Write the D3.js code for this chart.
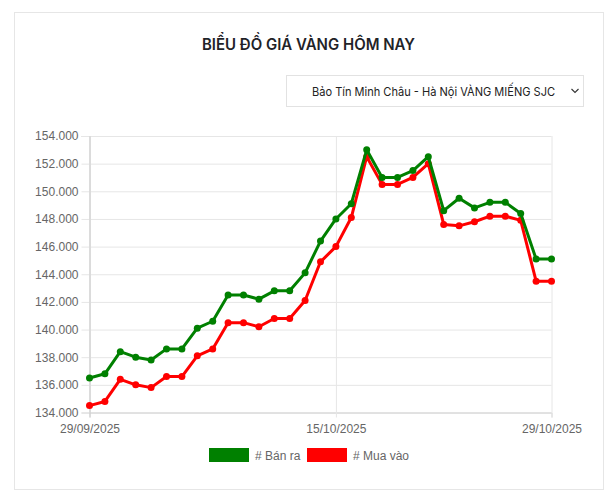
<!DOCTYPE html>
<html>
<head>
<meta charset="utf-8">
<script src="https://cdn.jsdelivr.net/npm/d3@7"></script>
<style>
  body { margin: 0; background: #fff; }
  svg { display: block; }
</style>
</head>
<body>
<svg id="chart" width="614" height="500"></svg>
<script>
// ngày trong kỳ
var dates = ["29/09/2025","30/09/2025","01/10/2025","02/10/2025","03/10/2025","04/10/2025",
  "05/10/2025","06/10/2025","07/10/2025","08/10/2025","09/10/2025","10/10/2025","11/10/2025",
  "12/10/2025","13/10/2025","14/10/2025","15/10/2025","16/10/2025","17/10/2025","18/10/2025",
  "19/10/2025","20/10/2025","21/10/2025","22/10/2025","23/10/2025","24/10/2025","25/10/2025",
  "26/10/2025","27/10/2025","28/10/2025","29/10/2025"];

// giá bán ra
var banRa = [136500,136800,138400,138000,137800,138600,138600,140100,140600,142500,142500,
  142200,142800,142800,144100,146400,148000,149100,153000,151000,151000,151500,152500,
  148600,149500,148800,149200,149200,148400,145100,145100];

// giá mua vào
var muaVao = [134500,134800,136400,136000,135800,136600,136600,138100,138600,140500,140500,
  140200,140800,140800,142100,144900,146000,148100,152500,150500,150500,151000,152000,
  147600,147500,147800,148200,148200,147900,143500,143500];

var xTicks = ["29/09/2025","15/10/2025","29/10/2025"];
var yTicks = [134000,136000,138000,140000,142000,144000,146000,148000,150000,152000,154000];

var series = [
  { name: "# Bán ra", values: banRa, color: "#008000" },
  { name: "# Mua vào", values: muaVao, color: "#ff0000" }
];

var svg = d3.select("#chart");
var parse = d3.timeParse("%d/%m/%Y");
var vn = d3.formatLocale({ decimal: ",", thousands: ".", grouping: [3], currency: ["", ""] });
var fmt = vn.format(",d");

// khung
svg.append("rect")
  .attr("x", 14.5).attr("y", 12.5)
  .attr("width", 589).attr("height", 477)
  .attr("fill", "#fff")
  .attr("stroke", "#e6e6e6");

svg.append("text")
  .attr("x", 202).attr("y", 50)
  .attr("textLength", 213)
  .attr("lengthAdjust", "spacingAndGlyphs")
  .style("font-family", "Inter, 'Noto Sans', sans-serif")
  .style("font-weight", 600)
  .style("font-size", "15.5px")
  .style("fill", "#1f2328")
  .text("BIỂU ĐỒ GIÁ VÀNG HÔM NAY");

// ô chọn
svg.append("rect")
  .attr("x", 286.5).attr("y", 75.5)
  .attr("width", 297).attr("height", 31)
  .attr("fill", "#fff")
  .attr("stroke", "#e2e2e2");
svg.append("text")
  .attr("x", 312).attr("y", 95.5)
  .attr("textLength", 243)
  .attr("lengthAdjust", "spacingAndGlyphs")
  .style("font-family", "Inter, 'Noto Sans', sans-serif")
  .style("font-size", "12px")
  .style("fill", "#222")
  .text("Bảo Tín Minh Châu - Hà Nội VÀNG MIẾNG SJC");
svg.append("path")
  .attr("d", "M571.5,89 L575,92.5 L578.5,89")
  .attr("fill", "none")
  .attr("stroke", "#333")
  .attr("stroke-width", 1.1);

var x = d3.scaleTime()
  .domain([parse(dates[0]), parse(dates[dates.length - 1])])
  .range([89.5, 551.5]);
var y = d3.scaleLinear()
  .domain([134000, 154000])
  .range([412.5, 136]);

var lab = { family: "'Liberation Sans', Arial, sans-serif", size: "12px", color: "#666" };

// trục y + lưới ngang
var yAxis = svg.append("g")
  .attr("transform", "translate(89.5,0)")
  .call(d3.axisLeft(y).tickValues(yTicks).tickFormat(fmt).tickSize(8).tickPadding(3));
yAxis.select(".domain").attr("stroke", "#d0d0d0");
yAxis.selectAll(".tick line")
  .attr("x2", 551.5 - 89.5).attr("x1", -8)
  .attr("stroke", "#e6e6e6");
yAxis.selectAll("text")
  .style("font-family", lab.family).style("font-size", lab.size).attr("fill", lab.color);

// trục x + lưới dọc
var xAxis = svg.append("g")
  .attr("transform", "translate(0,412.5)")
  .call(d3.axisBottom(x).tickValues(xTicks.map(parse)).tickFormat(d3.timeFormat("%d/%m/%Y"))
    .tickSize(5).tickPadding(7));
xAxis.select(".domain").attr("stroke", "#d0d0d0");
xAxis.selectAll(".tick line")
  .attr("y1", -(412.5 - 136)).attr("y2", 5)
  .attr("stroke", "#e6e6e6");
xAxis.select(".tick line").attr("stroke", "#d0d0d0");
xAxis.selectAll("text")
  .style("font-family", lab.family).style("font-size", lab.size).attr("fill", lab.color);

// đường giá: vẽ mua vào trước, bán ra nằm trên
var line = d3.line()
  .x(function (d, i) { return x(parse(dates[i])); })
  .y(function (d) { return y(d); });

series.slice().reverse().forEach(function (s) {
  svg.append("path")
    .datum(s.values)
    .attr("d", line)
    .attr("fill", "none")
    .attr("stroke", s.color)
    .attr("stroke-width", 3)
    .attr("stroke-linejoin", "round");

  svg.append("g").selectAll("circle")
    .data(s.values)
    .join("circle")
    .attr("cx", function (d, i) { return x(parse(dates[i])); })
    .attr("cy", function (d) { return y(d); })
    .attr("r", 3.5)
    .attr("fill", s.color);
});

// chú thích
var legendX = [209, 307];
series.forEach(function (s, i) {
  svg.append("rect")
    .attr("x", legendX[i]).attr("y", 448)
    .attr("width", 40).attr("height", 14)
    .attr("fill", s.color);
  svg.append("text")
    .attr("x", legendX[i] + 46).attr("y", 459.5)
    .style("font-family", lab.family).style("font-size", lab.size)
    .attr("fill", lab.color)
    .text(s.name);
});
</script>
</body>
</html>
